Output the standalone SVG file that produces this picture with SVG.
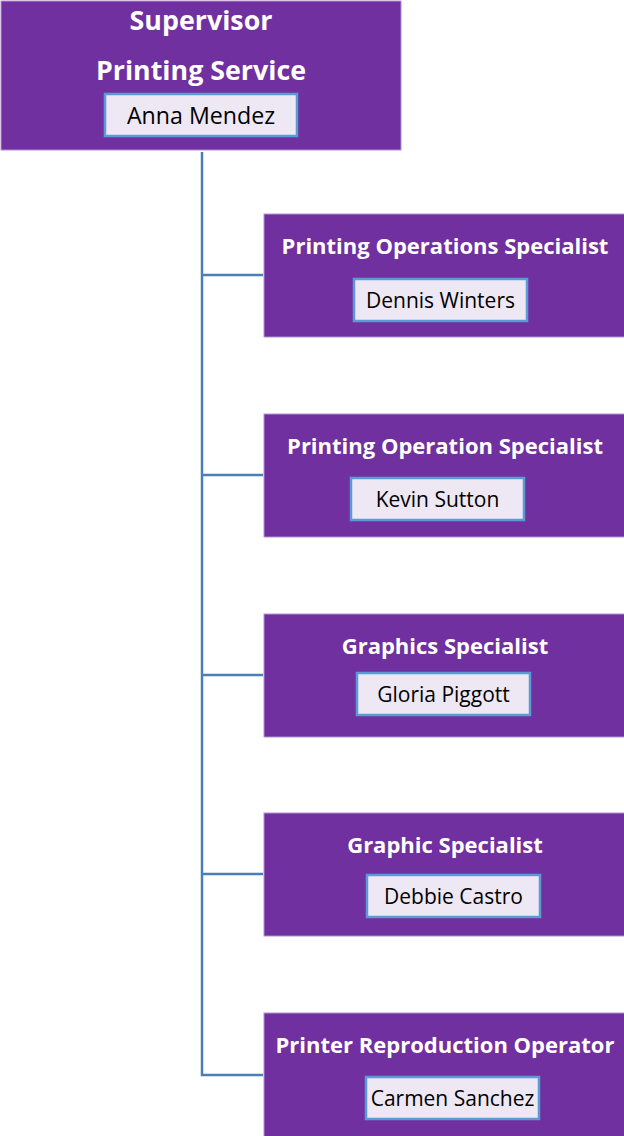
<svg xmlns="http://www.w3.org/2000/svg" width="624" height="1136" viewBox="0 0 624 1136">
<style>
.box{fill:#7030A0;stroke:#B48FD0;stroke-width:1}
.nb{fill:#EEE8F4;stroke:#5B9BD5;stroke-width:2.5}
.t{font-family:"Open Sans",Lato,sans-serif;font-weight:bold;fill:#fff;text-anchor:middle}
.n{font-family:"Open Sans",Lato,sans-serif;fill:#000;text-anchor:middle;font-size:21px}
.n.big{font-size:23.2px}
.c{fill:none;stroke:#4A7EBB;stroke-width:2.5}
</style>
<g id="connectors">
<path class="c" d="M202 152 V1075 H263 M202 275 H263 M202 475 H263 M202 675 H263 M202 874 H263"/>
</g>
<g id="supervisor">
<rect class="box" x="1" y="1" width="400" height="149"/>
<text class="t" x="201" y="30" font-size="26.8">Supervisor</text>
<text class="t" x="201" y="80" font-size="26.8">Printing Service</text>
<rect class="nb" x="105" y="94" width="192" height="42"/>
<text class="n big" x="201" y="124">Anna Mendez</text>
</g>
<g id="n1">
<rect class="box" x="264" y="214" width="361" height="123"/>
<text class="t" x="445" y="254" font-size="22">Printing Operations Specialist</text>
<rect class="nb" x="354" y="279" width="173" height="42"/>
<text class="n" x="440.5" y="308">Dennis Winters</text>
</g>
<g id="n2">
<rect class="box" x="264" y="414" width="361" height="123"/>
<text class="t" x="445" y="454" font-size="22">Printing Operation Specialist</text>
<rect class="nb" x="351" y="478" width="173" height="42"/>
<text class="n" x="437.5" y="507">Kevin Sutton</text>
</g>
<g id="n3">
<rect class="box" x="264" y="614" width="361" height="123"/>
<text class="t" x="445" y="654" font-size="22">Graphics Specialist</text>
<rect class="nb" x="357" y="673" width="173" height="42"/>
<text class="n" x="443.5" y="702">Gloria Piggott</text>
</g>
<g id="n4">
<rect class="box" x="264" y="813" width="361" height="123"/>
<text class="t" x="445" y="853" font-size="22">Graphic Specialist</text>
<rect class="nb" x="367" y="875" width="173" height="42"/>
<text class="n" x="453.5" y="904">Debbie Castro</text>
</g>
<g id="n5">
<rect class="box" x="264" y="1013" width="361" height="124"/>
<text class="t" x="445" y="1053" font-size="22">Printer Reproduction Operator</text>
<rect class="nb" x="366" y="1077" width="173" height="42"/>
<text class="n" x="452.5" y="1106">Carmen Sanchez</text>
</g>
</svg>
